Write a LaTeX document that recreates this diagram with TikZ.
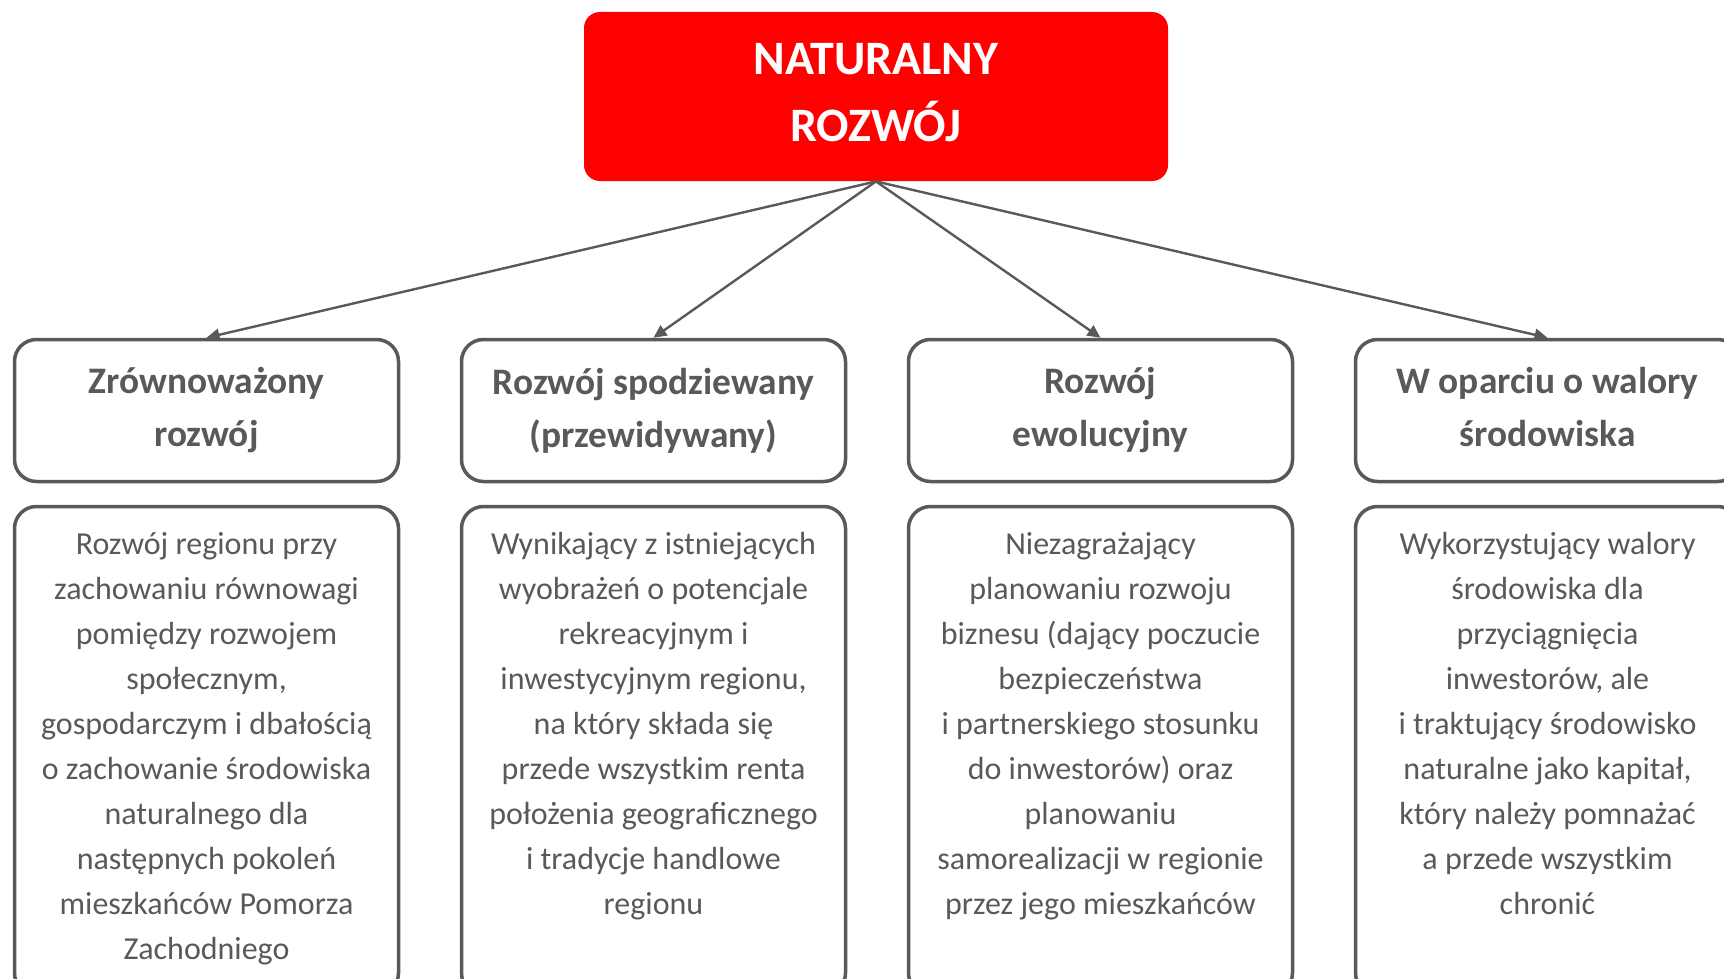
\documentclass[tikz,border=0pt]{standalone}
\usepackage{fontspec}
\setmainfont{Carlito}
\usetikzlibrary{arrows.meta}
\definecolor{dg}{HTML}{595959}
\definecolor{rd}{HTML}{FF0000}
\begin{document}
\begin{tikzpicture}[x=0.5pt,y=-0.5pt,
  titlebox/.style={fill=rd, rounded corners=8pt, minimum width=292pt, minimum height=84.5pt, inner sep=0pt},
  titletext/.style={text=white, inner sep=0pt, align=center, font=\fontsize{24}{33.5}\selectfont\bfseries},
  headbox/.style={draw=dg, line width=1.75pt, rounded corners=11pt, minimum width=192pt, minimum height=71pt, inner sep=0pt, text=dg, align=center, font=\fontsize{18.7}{26.5}\selectfont\bfseries},
  bodybox/.style={draw=dg, line width=1.75pt, rounded corners=11pt, minimum width=192pt, minimum height=244.25pt, inner sep=0pt},
  bodytext/.style={text=dg, inner sep=0pt, align=center, anchor=north, font=\fontsize{16}{22.5}\selectfont},
  arr/.style={draw=dg, line width=1.2pt, -{Triangle[length=6.5pt,width=6pt]}}
]
\useasboundingbox (0,0) rectangle (1724,979);
\clip (0,0) rectangle (1724,979);
\node[titlebox] (t) at (876,96.5) {};
\node[titletext] (tt) at (876,92.5) {NATURALNY\\ROZWÓJ};

\node[headbox] (h1) at (206.5,410.5) {Zrównoważony\\rozwój};
\node[headbox] (h2) at (653.5,410.5) {Rozwój spodziewany\\(przewidywany)};
\node[headbox] (h3) at (1100.5,410.5) {Rozwój\\ewolucyjny};
\node[headbox] (h4) at (1547.5,410.5) {W oparciu o walory\\środowiska\vphantom{j}};

\node[bodybox] (b1) at (206.5,750.75) {};
\node[bodybox] (b2) at (653.5,750.75) {};
\node[bodybox] (b3) at (1100.5,750.75) {};
\node[bodybox] (b4) at (1547.5,750.75) {};

\node[bodytext] (x1) at (206.5,532) {Rozwój regionu przy\\zachowaniu równowagi\\pomiędzy rozwojem\\społecznym,\\gospodarczym i dbałością\\o zachowanie środowiska\\naturalnego dla\\następnych pokoleń\\mieszkańców Pomorza\\Zachodniego};
\node[bodytext] (x2) at (653.5,532) {Wynikający z istniejących\\wyobrażeń o potencjale\\rekreacyjnym i\\inwestycyjnym regionu,\\na który składa się\\przede wszystkim renta\\położenia geograficznego\\i tradycje handlowe\\regionu};
\node[bodytext] (x3) at (1100.5,532) {Niezagrażający\\planowaniu rozwoju\\biznesu (dający poczucie\\bezpieczeństwa\\i partnerskiego stosunku\\do inwestorów) oraz\\planowaniu\\samorealizacji w regionie\\przez jego mieszkańców};
\node[bodytext] (x4) at (1547.5,532) {Wykorzystujący walory\\środowiska dla\\przyciągnięcia\\inwestorów, ale\\i traktujący środowisko\\naturalne jako kapitał,\\który należy pomnażać\\a przede wszystkim\\chronić};

\draw[arr] (t.south) -- (h1.north);
\draw[arr] (t.south) -- (h2.north);
\draw[arr] (t.south) -- (h3.north);
\draw[arr] (t.south) -- (h4.north);
\end{tikzpicture}
\end{document}
